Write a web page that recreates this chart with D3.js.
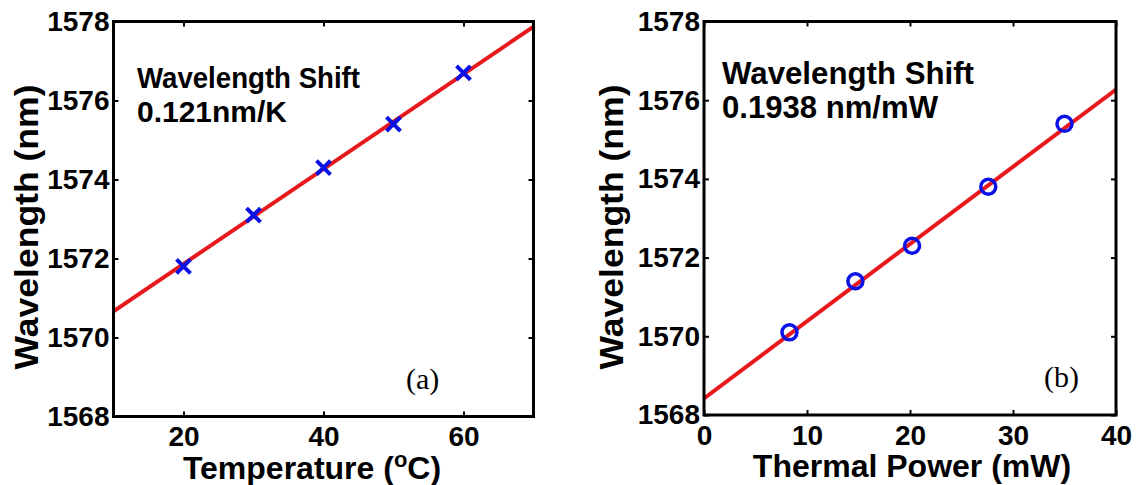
<!DOCTYPE html>
<html><head><meta charset="utf-8">
<script src="https://cdn.jsdelivr.net/npm/d3@7"></script>
<style>
html,body{margin:0;padding:0;background:#fff;}
svg{display:block;}
text{font-family:"Liberation Sans",Arial,sans-serif;font-weight:bold;fill:#000;}
</style></head><body>
<svg id="chart" width="1137" height="485"></svg>
<script>
// ---- data ----
const yTicks = [1568, 1570, 1572, 1574, 1576, 1578];
const tempTicks = [20, 40, 60];
const powerTicks = [0, 10, 20, 30, 40];
const tempC = [20, 30, 40, 50, 60];
const tempWavelength = [1571.8, 1573.1, 1574.3, 1575.4, 1576.7];
const tempFitX = [10, 70];
const tempFitY = [1570.66, 1577.87];
const powerMW = [8.3, 14.7, 20.2, 27.6, 35.0];
const powerWavelength = [1570.1, 1571.4, 1572.3, 1573.8, 1575.4];
const powerFitX = [0, 40];
const powerFitY = [1568.42, 1576.27];

const RED = "#e8191c", BLUE = "#0b12e6";
const svg = d3.select("#chart");

function panel(cfg) {
  const g = svg.append("g");
  const x = d3.scaleLinear().domain(cfg.xDomain).range([cfg.x0, cfg.x1]);
  const y = d3.scaleLinear().domain([1568, 1578]).range([cfg.y1, cfg.y0]);

  const ax = (sel, axis) => { sel.call(axis); sel.select(".domain").remove();
    sel.selectAll(".tick line").attr("stroke", "#000").attr("stroke-width", 2);
    sel.selectAll(".tick text").attr("font-size", 28).attr("font-family", null); };
  g.append("g").attr("transform", `translate(0,${cfg.y1})`)
    .call(s => ax(s, d3.axisBottom(x).tickValues(cfg.xTicks).tickSize(-5).tickPadding(10).tickFormat(d3.format("d"))));
  g.append("g").attr("transform", `translate(0,${cfg.y0})`)
    .call(s => ax(s, d3.axisTop(x).tickValues(cfg.xTicks).tickSize(-5).tickFormat("")));
  g.append("g").attr("transform", `translate(${cfg.x0},0)`)
    .call(s => ax(s, d3.axisLeft(y).tickValues(yTicks).tickSize(-5).tickPadding(4).tickFormat(d3.format("d"))));
  g.append("g").attr("transform", `translate(${cfg.x1},0)`)
    .call(s => ax(s, d3.axisRight(y).tickValues(yTicks).tickSize(-5).tickFormat("")));

  const clipId = "clip" + cfg.id;
  svg.append("clipPath").attr("id", clipId).append("rect")
    .attr("x", cfg.x0).attr("y", cfg.y0).attr("width", cfg.x1 - cfg.x0).attr("height", cfg.y1 - cfg.y0);
  g.append("path").attr("clip-path", `url(#${clipId})`)
    .datum(d3.zip(cfg.fitX, cfg.fitY))
    .attr("d", d3.line().x(d => x(d[0])).y(d => y(d[1])))
    .attr("fill", "none").attr("stroke", RED).attr("stroke-width", 4);

  const pts = d3.zip(cfg.px, cfg.py);
  if (cfg.marker === "x") {
    const s = 7;
    g.selectAll(".mk").data(pts).join("path")
      .attr("d", d => { const cx = x(d[0]), cy = y(d[1]);
        return `M${cx - s},${cy - s}L${cx + s},${cy + s}M${cx - s},${cy + s}L${cx + s},${cy - s}`; })
      .attr("stroke", BLUE).attr("stroke-width", 4).attr("fill", "none");
  } else {
    g.selectAll(".mk").data(pts).join("circle")
      .attr("cx", d => x(d[0])).attr("cy", d => y(d[1])).attr("r", 7.5)
      .attr("stroke", BLUE).attr("stroke-width", 3.5).attr("fill", "none");
  }

  g.append("rect").attr("x", cfg.x0).attr("y", cfg.y0)
    .attr("width", cfg.x1 - cfg.x0).attr("height", cfg.y1 - cfg.y0)
    .attr("fill", "none").attr("stroke", "#000").attr("stroke-width", 3);

  g.append("text").attr("transform", `translate(${cfg.ylabX},${cfg.ylabY}) rotate(-90)`)
    .attr("text-anchor", "middle").attr("font-size", 34)
    .attr("textLength", 285).attr("lengthAdjust", "spacingAndGlyphs").text("Wavelength (nm)");
  const xl = g.append("text").attr("x", cfg.xlabX).attr("y", cfg.xlabBase)
    .attr("text-anchor", "middle").attr("font-size", 32);
  cfg.xlabel(xl);
  g.append("text").attr("x", cfg.annX).attr("y", cfg.annY1).attr("font-size", cfg.annSize)
    .attr("textLength", cfg.annW1).attr("lengthAdjust", "spacingAndGlyphs").text("Wavelength Shift");
  g.append("text").attr("x", cfg.annX).attr("y", cfg.annY2).attr("font-size", cfg.annSize)
    .attr("textLength", cfg.annW2).attr("lengthAdjust", "spacingAndGlyphs").text(cfg.ann2);
  g.append("text").attr("x", cfg.tagX).attr("y", cfg.tagY)
    .style("font-family", "'Liberation Serif','Times New Roman',serif").style("font-weight", "normal")
    .attr("font-size", 30).text(cfg.tag);
}

panel({ id: "a", xDomain: [10, 70], x0: 113.5, x1: 533.5, y0: 21.5, y1: 416.5,
  xTicks: tempTicks, fitX: tempFitX, fitY: tempFitY, px: tempC, py: tempWavelength, marker: "x",
  ylabX: 38, ylabY: 227, xlabX: 312, xlabBase: 479,
  xlabel: t => { t.append("tspan").text("Temperature (");
    t.append("tspan").attr("font-size", 22).attr("dy", -12).text("o");
    t.append("tspan").attr("dy", 12).text("C)"); },
  annX: 137, annY1: 88, annY2: 122, annSize: 30, annW1: 223, annW2: 150, ann2: "0.121nm/K",
  tagX: 406, tagY: 389, tag: "(a)" });

panel({ id: "b", xDomain: [0, 40], x0: 704, x1: 1116, y0: 21.5, y1: 415,
  xTicks: powerTicks, fitX: powerFitX, fitY: powerFitY, px: powerMW, py: powerWavelength, marker: "o",
  ylabX: 623, ylabY: 227, xlabX: 912, xlabBase: 477,
  xlabel: t => t.text("Thermal Power (mW)"),
  annX: 722, annY1: 84, annY2: 118, annSize: 31, annW1: 252, annW2: 216, ann2: "0.1938 nm/mW",
  tagX: 1044, tagY: 387, tag: "(b)" });
</script>
</body></html>
